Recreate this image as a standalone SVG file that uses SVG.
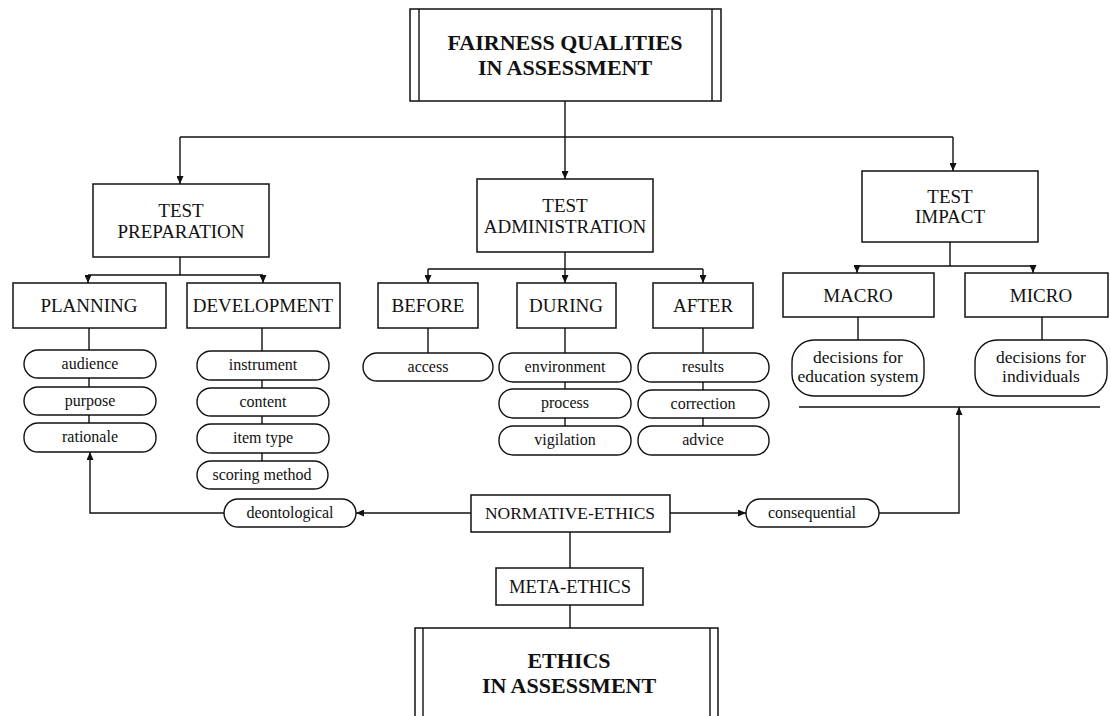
<svg xmlns="http://www.w3.org/2000/svg" width="1110" height="716" viewBox="0 0 1110 716">
<style>
.box{fill:#fff;stroke:#111;stroke-width:1.5}
.pill{fill:#fff;stroke:#111;stroke-width:1.4}
.ln{fill:none;stroke:#111;stroke-width:1.4}
.t{font-family:"Liberation Serif",serif;fill:#111;text-anchor:middle}
.h{font-size:19px}
.p{font-size:16px}
.b{font-size:22px;font-weight:bold}
</style>
<defs>
<marker id="ah" markerUnits="userSpaceOnUse" markerWidth="8" markerHeight="7" refX="8" refY="3.5" orient="auto">
<path d="M0,0 L8,3.5 L0,7 z" fill="#111"/>
</marker>
</defs>
<rect width="1110" height="716" fill="#fff"/>
<g id="connectors">
<path class="ln" d="M565,101 V179" marker-end="url(#ah)"/>
<path class="ln" d="M180,137 H953"/>
<path class="ln" d="M180,137 V184" marker-end="url(#ah)"/>
<path class="ln" d="M953,137 V171" marker-end="url(#ah)"/>
<path class="ln" d="M180,257 V275 M88,275 H263"/>
<path class="ln" d="M88,275 V283" marker-end="url(#ah)"/>
<path class="ln" d="M263,275 V283" marker-end="url(#ah)"/>
<path class="ln" d="M565,252 V269 M428,269 H703"/>
<path class="ln" d="M428,269 V283" marker-end="url(#ah)"/>
<path class="ln" d="M565,269 V283" marker-end="url(#ah)"/>
<path class="ln" d="M703,269 V283" marker-end="url(#ah)"/>
<path class="ln" d="M950,242 V266 M857,266 H1033"/>
<path class="ln" d="M857,266 V273" marker-end="url(#ah)"/>
<path class="ln" d="M1033,266 V273" marker-end="url(#ah)"/>
<path class="ln" d="M89,328 V423"/>
<path class="ln" d="M262,328 V461"/>
<path class="ln" d="M428,328 V353"/>
<path class="ln" d="M565,328 V426"/>
<path class="ln" d="M703,328 V426"/>
<path class="ln" d="M858,317 V340"/>
<path class="ln" d="M1042,317 V340"/>
<path class="ln" d="M799,407 H1100"/>
<path class="ln" d="M471,513 H356" marker-end="url(#ah)"/>
<path class="ln" d="M224,513 H90 V452" marker-end="url(#ah)"/>
<path class="ln" d="M670,513 H746" marker-end="url(#ah)"/>
<path class="ln" d="M879,513 H959 V407" marker-end="url(#ah)"/>
<path class="ln" d="M570,532 V568"/>
<path class="ln" d="M570,605 V628"/>
</g>
<g id="fairness">
<rect class="box" x="410" y="9" width="311" height="92"/>
<path class="ln" d="M419,9 V101 M712,9 V101"/>
<text class="t b" x="565" y="50">FAIRNESS QUALITIES</text>
<text class="t b" x="565" y="75">IN ASSESSMENT</text>
</g>
<g id="test-preparation">
<rect class="box" x="93" y="184" width="176" height="73"/>
<text class="t h" x="181" y="217">TEST</text>
<text class="t h" x="181" y="238">PREPARATION</text>
</g>
<g id="test-administration">
<rect class="box" x="477" y="179" width="176" height="73"/>
<text class="t h" x="565" y="212">TEST</text>
<text class="t h" x="565" y="233">ADMINISTRATION</text>
</g>
<g id="test-impact">
<rect class="box" x="862" y="171" width="176" height="71"/>
<text class="t h" x="950" y="203">TEST</text>
<text class="t h" x="950" y="223">IMPACT</text>
</g>
<g id="planning">
<rect class="box" x="13" y="283" width="153" height="45"/>
<text class="t h" x="89" y="312">PLANNING</text>
</g>
<g id="development">
<rect class="box" x="187" y="283" width="153" height="45"/>
<text class="t h" x="263" y="312">DEVELOPMENT</text>
</g>
<g id="before">
<rect class="box" x="378" y="283" width="100" height="45"/>
<text class="t h" x="428" y="312">BEFORE</text>
</g>
<g id="during">
<rect class="box" x="517" y="283" width="99" height="45"/>
<text class="t h" x="566" y="312">DURING</text>
</g>
<g id="after">
<rect class="box" x="653" y="283" width="100" height="45"/>
<text class="t h" x="703" y="312">AFTER</text>
</g>
<g id="macro">
<rect class="box" x="783" y="273" width="151" height="44"/>
<text class="t h" x="858" y="302">MACRO</text>
</g>
<g id="micro">
<rect class="box" x="965" y="273" width="143" height="44"/>
<text class="t h" x="1041" y="302">MICRO</text>
</g>
<g id="audience"><rect class="pill" x="24" y="350" width="132" height="28" rx="14"/><text class="t p" x="90" y="369">audience</text></g>
<g id="purpose"><rect class="pill" x="24" y="387" width="132" height="28" rx="14"/><text class="t p" x="90" y="406">purpose</text></g>
<g id="rationale"><rect class="pill" x="24" y="423" width="132" height="29" rx="14"/><text class="t p" x="90" y="442">rationale</text></g>
<g id="instrument"><rect class="pill" x="197" y="351" width="132" height="29" rx="14"/><text class="t p" x="263" y="370">instrument</text></g>
<g id="content"><rect class="pill" x="197" y="388" width="132" height="28" rx="14"/><text class="t p" x="263" y="407">content</text></g>
<g id="item-type"><rect class="pill" x="197" y="424" width="132" height="29" rx="14"/><text class="t p" x="263" y="443">item type</text></g>
<g id="scoring-method"><rect class="pill" x="197" y="461" width="131" height="28" rx="14"/><text class="t p" x="262" y="480">scoring method</text></g>
<g id="access"><rect class="pill" x="363" y="353" width="130" height="28" rx="14"/><text class="t p" x="428" y="372">access</text></g>
<g id="environment"><rect class="pill" x="499" y="353" width="132" height="29" rx="14"/><text class="t p" x="565" y="372">environment</text></g>
<g id="process"><rect class="pill" x="499" y="389" width="132" height="29" rx="14"/><text class="t p" x="565" y="408">process</text></g>
<g id="vigilation"><rect class="pill" x="499" y="426" width="132" height="29" rx="14"/><text class="t p" x="565" y="445">vigilation</text></g>
<g id="results"><rect class="pill" x="638" y="353" width="131" height="29" rx="14"/><text class="t p" x="703" y="372">results</text></g>
<g id="correction"><rect class="pill" x="638" y="390" width="131" height="28" rx="14"/><text class="t p" x="703" y="409">correction</text></g>
<g id="advice"><rect class="pill" x="638" y="426" width="131" height="29" rx="14"/><text class="t p" x="703" y="445">advice</text></g>
<g id="decisions-system"><rect class="pill" x="792" y="340" width="132" height="56" rx="22"/><text class="t" style="font-size:17.5px" x="858" y="363">decisions for</text><text class="t" style="font-size:17.5px" x="858" y="382">education system</text></g>
<g id="decisions-individuals"><rect class="pill" x="975" y="340" width="132" height="56" rx="22"/><text class="t" style="font-size:17.5px" x="1041" y="363">decisions for</text><text class="t" style="font-size:17.5px" x="1041" y="382">individuals</text></g>
<g id="deontological"><rect class="pill" x="224" y="499" width="132" height="28" rx="14"/><text class="t p" x="290" y="518">deontological</text></g>
<g id="consequential"><rect class="pill" x="746" y="499" width="133" height="28" rx="14"/><text class="t p" x="812" y="518">consequential</text></g>
<g id="normative-ethics">
<rect class="box" x="471" y="495" width="199" height="37"/>
<text class="t" style="font-size:17.5px" x="570" y="519">NORMATIVE-ETHICS</text>
</g>
<g id="meta-ethics">
<rect class="box" x="496" y="568" width="147" height="37"/>
<text class="t" style="font-size:18.5px" x="570" y="593">META-ETHICS</text>
</g>
<g id="ethics">
<rect class="box" x="415" y="628" width="303" height="100"/>
<path class="ln" d="M423,628 V716 M710,628 V716"/>
<text class="t b" x="569" y="668">ETHICS</text>
<text class="t b" x="569" y="693">IN ASSESSMENT</text>
</g>
</svg>
